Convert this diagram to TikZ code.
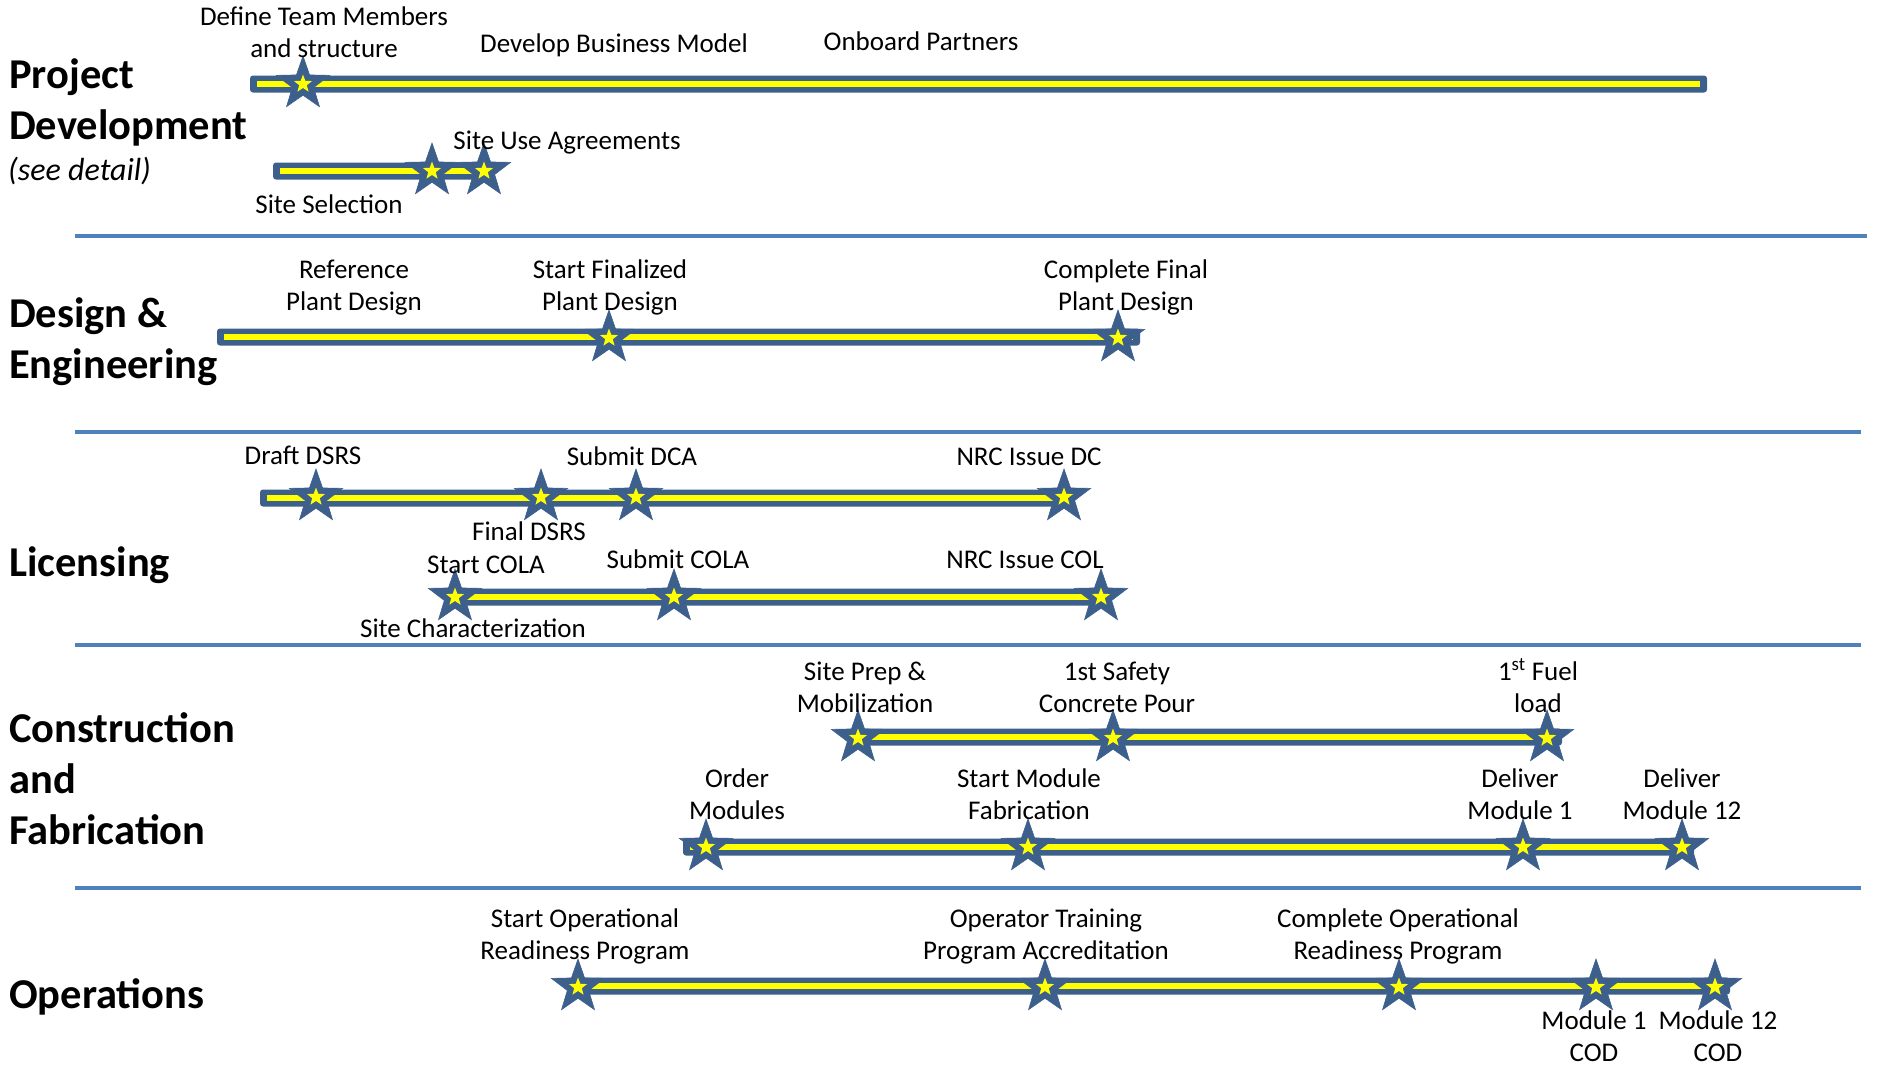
\documentclass[tikz,border=0pt]{standalone}
\usepackage{fontspec}
\setmainfont{Carlito}
\usetikzlibrary{shapes.geometric}
\definecolor{barblue}{RGB}{60,95,140}
\definecolor{sepblue}{RGB}{79,129,189}
\definecolor{baryellow}{RGB}{255,255,0}
\tikzset{
  milestone/.style={star, star points=5, star point ratio=2.5, minimum size=56pt, inner sep=0pt, fill=barblue, draw=barblue, line width=0.6pt},
  inner/.style={star, star points=5, star point ratio=2.4, minimum size=19pt, inner sep=0pt, fill=baryellow, draw=none},
  lbl/.style={font=\fontsize{27}{32}\selectfont, align=center, inner sep=0pt, anchor=base},
  ttl/.style={font=\fontsize{42.5}{51}\selectfont\bfseries, align=left, inner sep=0pt, anchor=base west},
  sep/.style={draw=sepblue, line width=4.5pt},
}
\newcommand{\mybar}[3]{% name, x1, x2 at y
  \coordinate (#1a) at (#2);
  \coordinate (#1b) at (#3);
  \fill[barblue, rounded corners=3pt] ([yshift=8.5pt]#1a) rectangle ([yshift=-8.5pt]#1b);
  \draw[baryellow, line width=5.5pt] ([xshift=7pt]#1a) -- ([xshift=-7pt]#1b);
}
\newcommand{\mystar}[2]{%
  \node[milestone] (#1) at (#2) {};
  \node[inner] (#1i) at (#1.center) {};
}
\begin{document}
\begin{tikzpicture}[x=1pt,y=-1pt]
\useasboundingbox (0,0) rectangle (1877,1066);

% section titles (anchor = baseline of last line)
\node[ttl] (t1) at (9,139) {Project\\Development};
\node[font=\fontsize{32}{38}\selectfont\itshape, inner sep=0pt, anchor=base west] (t1b) at (8,180) {(see detail)};
\node[ttl] (t2) at (9,378) {Design \&\\Engineering};
\node[ttl] (t3) at (9,576) {Licensing};
\node[ttl] (t4) at (9,844) {Construction\\and\\Fabrication};
\node[ttl] (t5) at (9,1008) {Operations};

% separators
\coordinate (l1a) at (75,236); \coordinate (l1b) at (1867,236);
\coordinate (l2a) at (75,432); \coordinate (l2b) at (1861,432);
\coordinate (l3a) at (75,645); \coordinate (l3b) at (1861,645);
\coordinate (l4a) at (75,888); \coordinate (l4b) at (1861,888);
\draw[sep] (l1a) -- (l1b);
\draw[sep] (l2a) -- (l2b);
\draw[sep] (l3a) -- (l3b);
\draw[sep] (l4a) -- (l4b);

% Project development
\mybar{pa}{250,84}{1707,84}
\mystar{pa1}{303,84}
\mybar{pb}{273,171}{488,171}
\mystar{pb1}{432,171}
\mystar{pb2}{484,171}
\node[lbl] (lpa1) at (324,57) {Define Team Members\\and structure};
\node[lbl] (lpa2) at (614,52) {Develop Business Model};
\node[lbl] (lpa3) at (921,50) {Onboard Partners};
\node[lbl] (lpb2) at (567,149) {Site Use Agreements};
\node[lbl] (lpb1) at (329,213) {Site Selection};

% Design & Engineering
\mybar{da}{217,337}{1140,337}
\mystar{da1}{609,338}
\mystar{da2}{1118,338}
\node[lbl] (lda0) at (354,310) {Reference\\Plant Design};
\node[lbl] (lda1) at (610,310) {Start Finalized\\Plant Design};
\node[lbl] (lda2) at (1126,310) {Complete Final\\Plant Design};

% Licensing
\mybar{la}{260,498}{1068,498}
\mystar{la1}{316,497}
\mystar{la2}{541,497}
\mystar{la3}{636,497}
\mystar{la4}{1064,497}
\node[lbl] (lla1) at (303,464) {Draft DSRS};
\node[lbl] (lla3) at (632,465) {Submit DCA};
\node[lbl] (lla4) at (1029,465) {NRC Issue DC};
\node[lbl] (lla2) at (529,540) {Final DSRS};
\mybar{lb}{455,597}{1105,597}
\mystar{lb1}{455,597}
\mystar{lb2}{674,597}
\mystar{lb3}{1101,597}
\node[lbl] (llb1) at (486,573) {Start COLA};
\node[lbl] (llb2) at (678,568) {Submit COLA};
\node[lbl] (llb3) at (1025,568) {NRC Issue COL};
\node[lbl] (llb0) at (473,637) {Site Characterization};

% Construction
\mybar{ca}{850,737}{1562,737}
\mystar{ca1}{858,738}
\mystar{ca2}{1113,738}
\mystar{ca3}{1547,738}
\node[lbl] (lca1) at (865,712) {Site Prep \&\\Mobilization};
\node[lbl] (lca2) at (1117,712) {1st Safety\\Concrete Pour};
\node[lbl] (lca3) at (1538,712) {1\textsuperscript{st} Fuel\\load};
\mybar{cb}{683,847}{1694,847}
\mystar{cb1}{706,847}
\mystar{cb2}{1028,847}
\mystar{cb3}{1523,847}
\mystar{cb4}{1682,847}
\node[lbl] (lcb1) at (737,819) {Order\\Modules};
\node[lbl] (lcb2) at (1029,819) {Start Module\\Fabrication};
\node[lbl] (lcb3) at (1520,819) {Deliver\\Module 1};
\node[lbl] (lcb4) at (1682,819) {Deliver\\Module 12};

% Operations
\mybar{oa}{578,986}{1730,986}
\mystar{oa1}{578,987}
\mystar{oa2}{1045,987}
\mystar{oa3}{1399,987}
\mystar{oa4}{1596,987}
\mystar{oa5}{1715,987}
\node[lbl] (loa1) at (585,959) {Start Operational\\Readiness Program};
\node[lbl] (loa2) at (1046,959) {Operator Training\\Program Accreditation};
\node[lbl] (loa3) at (1398,959) {Complete Operational\\Readiness Program};
\node[lbl] (loa4) at (1594,1061) {Module 1\\COD};
\node[lbl] (loa5) at (1718,1061) {Module 12\\COD};
\end{tikzpicture}
\end{document}
